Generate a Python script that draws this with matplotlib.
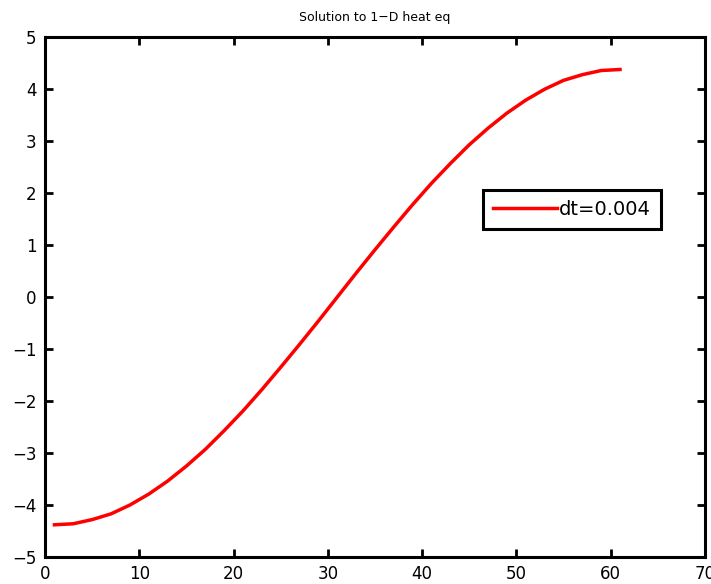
import matplotlib
matplotlib.use("Agg")
import matplotlib.pyplot as plt

x_vals = [1, 3, 5, 7, 9, 11, 13, 15, 17, 19, 21, 23, 25, 27, 29, 31,
          33, 35, 37, 39, 41, 43, 45, 47, 49, 51, 53, 55, 57, 59, 61]
y_vals = [-4.38, -4.36, -4.28, -4.17, -4.00, -3.79, -3.54, -3.25, -2.93, -2.57,
          -2.19, -1.78, -1.35, -0.91, -0.46, 0.00, 0.46, 0.91, 1.35, 1.78,
          2.19, 2.57, 2.93, 3.25, 3.54, 3.79, 4.00, 4.17, 4.28, 4.36, 4.38]
x_ticks = [0, 10, 20, 30, 40, 50, 60, 70]
y_ticks = [-5, -4, -3, -2, -1, 0, 1, 2, 3, 4, 5]
title = "Solution to 1\u2212D heat eq"
legend_label = "dt=0.004"

fig = plt.figure(figsize=(7.11, 5.84), dpi=100)
ax = fig.add_axes([0.0633, 0.0462, 0.928, 0.890])
ax.plot(x_vals, y_vals, color="red", lw=2.5, label=legend_label)
ax.set_xlim(0, 70)
ax.set_ylim(-5, 5)
ax.set_xticks(x_ticks)
ax.set_yticks(y_ticks)
ax.set_yticklabels([str(v).replace("-", "\u2212") for v in y_ticks])
ax.tick_params(direction="in", top=True, right=True, length=6, width=2,
               labelsize=12, pad=6)
for s in ax.spines.values():
    s.set_linewidth(2.2)
ax.set_title(title, fontsize=9, pad=12)
leg = ax.legend(loc="upper left", bbox_to_anchor=(0.664, 0.706), fontsize=14,
                frameon=True, fancybox=False, framealpha=1, handlelength=3.3,
                handletextpad=0.1, borderpad=0.5, borderaxespad=0)
leg.get_frame().set_edgecolor("black")
leg.get_frame().set_linewidth(2.2)
fig.savefig("out.png", dpi=100)
